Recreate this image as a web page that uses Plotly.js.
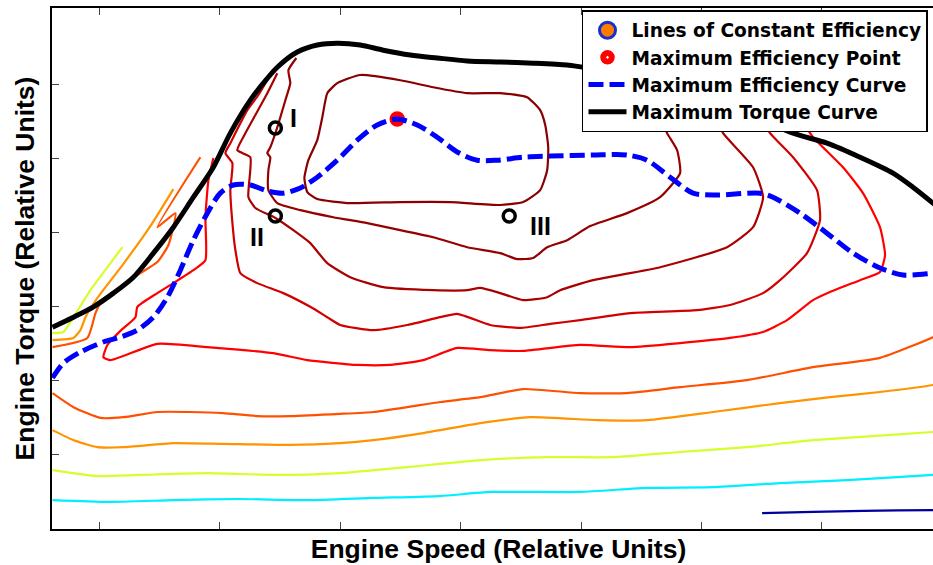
<!DOCTYPE html>
<html>
<head>
<meta charset="utf-8">
<script src="https://cdn.plot.ly/plotly-3.0.1.min.js"></script>
<style>
html, body { margin: 0; padding: 0; overflow: hidden; background: #fff; }
#chart { width: 960px; height: 565px; }
</style>
</head>
<body>
<div id="chart"></div>
<script>
// ---------- DATA (engine speed in rpm-like relative units, torque in relative units) ----------
const speedTicks = [1000, 2000, 3000, 4000, 5000, 6000, 7000];
const torqueTicks = [20, 40, 60, 80, 100, 120];

// Maximum torque curve
const maxTorqueSpeed = [610,784,950,1116,1282,1448,1614,1780,1946,2087,2253,2361,2477,2643,2809,2975,3166,3357,3581,3805,4054,4328,4602,4884,5017,5324,5822,6320,6760,7042,7316,7590,7756,7922,8022];
const maxTorqueValue = [54.5,57.2,60.0,63.7,68.0,74.5,81.5,89.6,97.7,106.9,115.8,120.4,124.7,128.8,130.7,131.2,130.7,129.3,128.0,127.2,126.4,126.1,125.8,125.3,124.7,123.4,119.9,113.1,106.9,104.2,100.4,96.1,92.3,88.0,85.3];

// Maximum efficiency curve
const maxEffSpeed = [610,701,842,1033,1174,1315,1448,1564,1672,1780,1896,2004,2112,2253,2394,2527,2668,2809,2975,3141,3307,3473,3639,3805,3971,4137,4303,4519,4743,5100,5382,5548,5739,5930,6129,6486,6594,6818,7042,7258,7482,7673,7922,8022];
const maxEffTorque = [40.8,44.8,47.8,50.5,51.8,53.7,57.2,62.6,69.9,78.0,85.3,90.7,92.9,92.9,91.3,90.7,92.1,95.0,99.6,105.0,109.1,110.7,109.1,105.8,101.8,99.6,99.6,100.4,100.7,101.0,101.0,99.6,95.0,90.7,90.2,90.7,89.6,85.3,79.9,74.5,70.5,68.6,69.1,69.4];

// Maximum efficiency point
const maxEffPointSpeed = [3473];
const maxEffPointTorque = [110.7];

// Operating points I, II, III
const opLabels = ["I", "II", "III"];
const opSpeed = [2461, 2461, 4403];
const opTorque = [108.3, 84.5, 84.5];

// Lines of constant efficiency (from highest to lowest level)
const eff1Speed = [2892,2975,3166,3498,3772,4054,4328,4552,4660,4702,4727,4718,4660,4519,4328,3913,3498,3083,2809,2726,2702,2735,2809,2851,2892];
const eff1Torque = [117.7,120.4,122.6,121.2,119.3,117.7,117.7,116.6,113.1,109.1,103.1,96.9,91.5,88.3,87.5,88.3,88.3,88.0,89.1,91.0,94.8,99.6,105.0,111.2,117.7];

const eff2Speed = [2635,2569,2585,2544,2477,2419,2394,2419,2403,2403,2477,2668,2942,3224,3498,3772,4054,4328,4469,4602,4718,4884,5075,5382,5656,5822,5797,5714,5690];
const eff2Torque = [127.2,123.9,120.4,115.8,108.5,103.1,101.5,100.4,96.9,91.5,88.0,86.1,84.2,82.6,80.7,78.8,76.1,74.5,72.9,73.2,76.1,78.0,81.8,85.3,89.6,96.1,102.3,106.9,109.1];

const eff3Speed = [2477,2386,2295,2204,2145,2253,2237,2295,2461,2610,2751,2892,3083,3357,3772,4054,4162,4328,4519,4718,4826,5100,5656,6212,6428,6511,6428,6179,6154];
const eff3Torque = [123.1,117.2,111.8,106.4,102.3,100.4,89.6,86.7,84.0,80.7,77.2,71.8,68.0,65.3,64.5,64.5,65.1,63.7,61.8,62.6,64.5,67.2,70.7,76.1,81.5,89.6,97.7,106.9,109.1];

const eff4Speed = [2403,2320,2228,2087,2046,2104,2087,2112,2129,2170,2311,2527,2751,2892,3000,3274,3556,3830,3971,4245,4494,4743,4992,5407,5963,6237,6511,6652,6876,6984,6959,6760,6569,6536];
const eff4Torque = [121.8,117.2,113.1,104.2,101.5,98.8,91.5,79.9,75.3,69.1,66.4,63.7,60.0,57.2,55.1,53.7,55.1,57.2,58.1,55.1,54.3,55.4,56.4,58.3,59.1,60.5,63.7,67.2,74.5,83.4,91.5,100.4,106.9,109.1];

const eff5Speed = [1946,1905,1880,1880,1780,1614,1481,1315,1299,1174,1066,1033,1091,1481,1896,2444,2726,3141,3415,3689,3971,4245,4519,4992,5407,5822,6237,6511,6710,6926,7067,7316,7482,7524,7482,7341,7175,6926,6868];
const eff5Torque = [100.2,94.2,84.2,72.6,69.9,66.4,63.7,60.0,57.2,53.5,49.7,46.4,45.6,50.0,49.1,47.5,45.6,44.3,44.3,45.6,48.9,48.3,48.1,49.7,49.1,50.2,51.6,53.2,56.4,61.8,64.0,67.2,69.4,74.0,81.5,90.7,97.7,105.8,108.5];

const eff6aSpeed = [610,900,967,1008,1232,1340,1481,1573,1631,1481,1838];
const eff6aTorque = [49.1,51.6,58.3,61.0,66.7,69.1,72.1,76.7,85.3,81.5,100.4];
const eff6bSpeed = [610,784,1008,1199,1481,1755,2029,2311,2585,3000,3274,3556,3830,4162,4519,4992,5382,5822,6378,6926,7482,7922,8022];
const eff6bTorque = [36.7,32.9,30.0,30.2,31.6,31.6,31.3,30.5,30.5,31.1,31.6,32.9,34.3,35.6,37.8,36.7,36.7,38.3,40.2,43.7,46.2,51.8,53.5];

const eff7aSpeed = [610,784,842,884,983,1199,1423,1614];
const eff7aTorque = [51.0,51.6,53.7,57.2,62.4,71.6,81.8,91.8];
const eff7bSpeed = [610,784,983,1199,1614,2029,2585,3000,3274,3689,4162,4577,5133,5548,6096,6652,7067,7482,7922,8022];
const eff7bTorque = [26.7,24.0,22.1,22.1,23.2,23.0,22.7,23.2,24.0,25.9,28.6,30.2,29.4,29.4,31.6,34.0,35.6,37.0,38.9,39.7];

const eff8aSpeed = [610,701,784,925,1066,1191];
const eff8aTorque = [52.9,53.2,57.2,64.5,70.7,76.1];
const eff8bSpeed = [610,983,1340,1896,2444,3000,3556,4162,4718,5266,5822,6378,6926,7922,8022];
const eff8bTorque = [15.9,14.3,14.6,15.1,14.6,15.1,16.7,18.6,19.4,19.4,20.8,22.1,24.0,26.2,26.5];

const eff9Speed = [610,1066,1614,2170,2726,3274,3830,4245,4992,5548,6096,6652,7208,7922,8022];
const eff9Torque = [7.8,7.3,7.8,8.1,7.8,8.4,8.9,10.0,10.0,11.1,11.3,12.4,13.2,14.6,14.9];

const eff10Speed = [6503,6926,7341,7922,8022];
const eff10Torque = [4.3,4.6,4.9,5.1,5.1];

const legendNames = ["Lines of Constant Efficiency", "Maximum Efficiency Point", "Maximum Efficiency Curve", "Maximum Torque Curve"];

// ---------- STYLES ----------
const contourSets = [
  [eff10Speed, eff10Torque, '#00009C'],
  [eff9Speed, eff9Torque, '#00EEFF'],
  [eff8bSpeed, eff8bTorque, '#D4FF2A'],
  [eff8aSpeed, eff8aTorque, '#D4FF2A'],
  [eff7bSpeed, eff7bTorque, '#FF9400'],
  [eff7aSpeed, eff7aTorque, '#FF9400'],
  [eff6bSpeed, eff6bTorque, '#FF5000'],
  [eff6aSpeed, eff6aTorque, '#FF5000'],
  [eff5Speed, eff5Torque, '#FF0000'],
  [eff4Speed, eff4Torque, '#D00000'],
  [eff3Speed, eff3Torque, '#AA0000'],
  [eff2Speed, eff2Torque, '#960000'],
  [eff1Speed, eff1Torque, '#880000']
];

const FONT = 'Liberation Sans, Arial, Helvetica, sans-serif';
const LEGEND_FONT = 'DejaVu Sans, Liberation Sans, Arial, sans-serif';
const traces = [];

contourSets.forEach(function (c) {
  traces.push({
    x: c[0], y: c[1], type: 'scatter', mode: 'lines',
    line: { color: c[2], width: 2.2, shape: 'spline', smoothing: 0.5 },
    showlegend: false, hoverinfo: 'skip'
  });
});

// legend-only entry for the contour lines
traces.push({
  x: [null], y: [null], type: 'scatter', mode: 'markers', name: legendNames[0],
  marker: { symbol: 'circle', size: 16, color: '#FF7A00', line: { color: '#1830C8', width: 3 } },
  legendrank: 1
});

traces.push({
  x: maxEffPointSpeed, y: maxEffPointTorque, type: 'scatter', mode: 'markers', name: legendNames[1],
  marker: { symbol: 'circle-dot', size: 17, color: '#FF0000', line: { color: '#FFFFFF', width: 1.5 } },
  legendrank: 2
});

traces.push({
  x: maxEffSpeed, y: maxEffTorque, type: 'scatter', mode: 'lines', name: legendNames[2],
  line: { color: '#0000FF', width: 5, dash: '15px,6px', shape: 'spline', smoothing: 0.8 },
  legendrank: 3
});

traces.push({
  x: maxTorqueSpeed, y: maxTorqueValue, type: 'scatter', mode: 'lines', name: legendNames[3],
  line: { color: '#000000', width: 5, shape: 'spline', smoothing: 0.8 },
  legendrank: 4
});

traces.push({
  x: opSpeed, y: opTorque, type: 'scatter', mode: 'markers',
  marker: { symbol: 'circle-open', size: 12, color: '#000', line: { color: '#000', width: 3.5 } },
  showlegend: false, hoverinfo: 'skip'
});

const labelShift = [[18, 10], [-18, -21], [31, -10]];
const annotations = opLabels.map(function (t, i) {
  return {
    x: opSpeed[i], y: opTorque[i], text: t, showarrow: false,
    xshift: labelShift[i][0], yshift: labelShift[i][1],
    font: { family: FONT, size: 25, color: '#000', weight: 'bold' }
  };
});

const layout = {
  width: 960, height: 565,
  margin: { l: 52, r: 15, t: 8, b: 36 },
  paper_bgcolor: '#fff', plot_bgcolor: '#fff',
  showlegend: true,
  xaxis: {
    range: [606, 8022], tickvals: speedTicks, showticklabels: false,
    ticks: 'inside', ticklen: 7, tickcolor: '#444', tickwidth: 1,
    showline: true, linecolor: '#000', linewidth: 2, mirror: 'ticks',
    showgrid: false, zeroline: false, automargin: false,
    title: { text: 'Engine Speed (Relative Units)', standoff: 9,
      font: { family: FONT, size: 26.5, color: '#000', weight: 'bold' } }
  },
  yaxis: {
    range: [0, 140.7], tickvals: torqueTicks, showticklabels: false,
    ticks: 'inside', ticklen: 7, tickcolor: '#444', tickwidth: 1,
    showline: true, linecolor: '#000', linewidth: 2, mirror: false,
    showgrid: false, zeroline: false, automargin: false,
    title: { text: 'Engine Torque (Relative Units)', standoff: 8,
      font: { family: FONT, size: 26.5, color: '#000', weight: 'bold' } }
  },
  legend: {
    x: 0.5935, y: 0.996, xanchor: 'left', yanchor: 'top',
    bgcolor: '#fff', bordercolor: '#000', borderwidth: 1.5,
    font: { family: LEGEND_FONT, size: 18.6, color: '#000', weight: 'bold' },
    itemwidth: 38, tracegroupgap: 0
  },
  annotations: annotations
};

Plotly.newPlot('chart', traces, layout, { displayModeBar: false, staticPlot: true });
</script>
</body>
</html>
